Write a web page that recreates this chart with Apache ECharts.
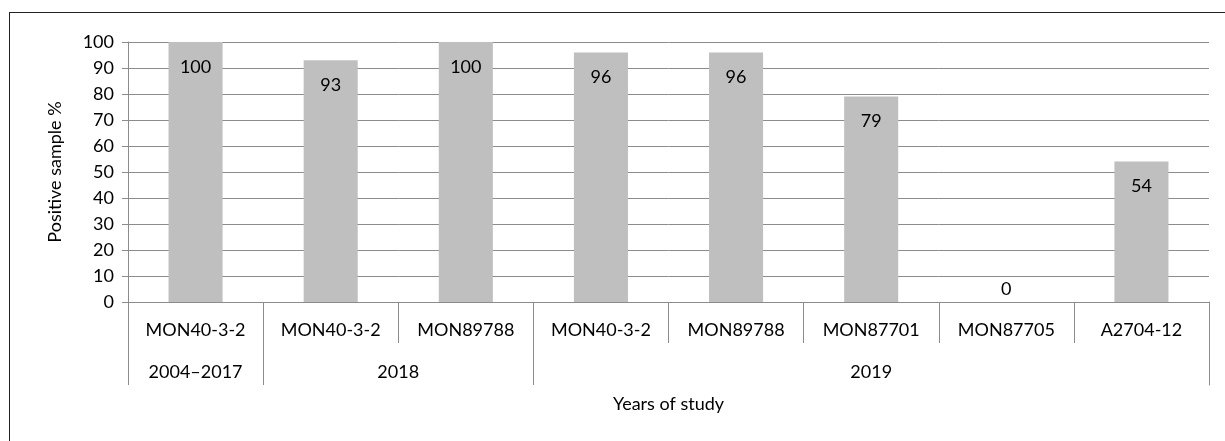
<!DOCTYPE html>
<html>
<head>
<meta charset="utf-8">
<script src="https://cdn.jsdelivr.net/npm/echarts@6/dist/echarts.min.js"></script>
<style>
html,body{margin:0;padding:0;background:#fff;overflow:hidden;}
#frame{position:absolute;left:9px;top:12px;width:1300px;height:500px;border-left:1px solid #222;border-top:1px solid #222;}
#chart{position:absolute;left:0;top:0;width:1225px;height:441px;}
</style>
</head>
<body>
<div id="frame"></div>
<div id="chart"></div>
<script>
const events = ['MON40-3-2','MON40-3-2','MON89788','MON40-3-2','MON89788','MON87701','MON87705','A2704-12'];
const values = [100, 93, 100, 96, 96, 79, 0, 54];
const groupLabels = ['2004–2017','2018','2019'];
const groupSizes = [1, 2, 5];
const yTicks = {min:0, max:100, interval:10};

// half-slot axis (17 points) for the group level
const half = [];
for (let i = 0; i <= events.length * 2; i++) half.push('');
const groupTickIdx = [0];
let acc = 0;
groupSizes.forEach((n, g) => {
  const center = acc * 2 + n;
  half[Math.round(center)] = groupLabels[g];
  acc += n;
  groupTickIdx.push(acc * 2);
});

const FONT = 'Lato, "Open Sans", sans-serif';
const TXT = '#000';
const LINE = '#8c8c8c';
const chart = echarts.init(document.getElementById('chart'));
chart.setOption({
  animation: false,
  textStyle: {fontFamily: FONT},
  grid: [
    {left: 128, right: 16, top: 42, bottom: 139},
    // strip under the plot used only for the right border of the category table
    {left: 128, right: 16, top: 302, bottom: 56}
  ],
  xAxis: [
    {
      type: 'category',
      data: events,
      axisLine: {lineStyle: {color: LINE, width: 1}},
      axisTick: {show: true, length: 41, lineStyle: {color: LINE}},
      axisLabel: {color: TXT, fontSize: 18, margin: 19, fontFamily: FONT, interval: 0}
    },
    {
      type: 'category',
      position: 'bottom',
      data: half,
      boundaryGap: false,
      axisLine: {show: false},
      axisTick: {show: true, length: 83, interval: (i) => groupTickIdx.includes(i), lineStyle: {color: LINE}},
      axisLabel: {color: TXT, fontSize: 18, margin: 61, fontFamily: FONT, interval: 0},
      name: 'Years of study',
      nameLocation: 'middle',
      nameGap: 93,
      nameTextStyle: {color: TXT, fontSize: 18, fontFamily: FONT}
    },
    {
      gridIndex: 1,
      type: 'value',
      min: 0, max: 1,
      show: false
    }
  ],
  yAxis: [
    {
      type: 'value',
      min: yTicks.min, max: yTicks.max, interval: yTicks.interval,
      axisLine: {show: true, lineStyle: {color: LINE}},
      axisTick: {show: true, length: 6, lineStyle: {color: LINE}},
      axisLabel: {color: TXT, fontSize: 18, margin: 14, fontFamily: FONT},
      splitLine: {lineStyle: {color: LINE, width: 1}},
      name: 'Positive sample %',
      nameLocation: 'middle',
      nameGap: 64,
      nameTextStyle: {color: TXT, fontSize: 18, fontFamily: FONT}
    },
    {
      gridIndex: 1,
      type: 'value',
      position: 'right',
      min: 0, max: 1,
      axisLine: {show: true, onZero: false, lineStyle: {color: LINE, width: 1}},
      axisTick: {show: false},
      axisLabel: {show: false},
      splitLine: {show: false}
    }
  ],
  series: [{
    type: 'bar',
    xAxisIndex: 0,
    yAxisIndex: 0,
    barWidth: '40%',
    data: values.map(v => v === 0
      ? {value: v, label: {position: 'top', distance: 4}}
      : {value: v}),
    itemStyle: {color: '#bfbfbf'},
    label: {show: true, position: 'insideTop', distance: 16, color: TXT, fontSize: 18, fontFamily: FONT}
  }]
});
</script>
</body>
</html>
